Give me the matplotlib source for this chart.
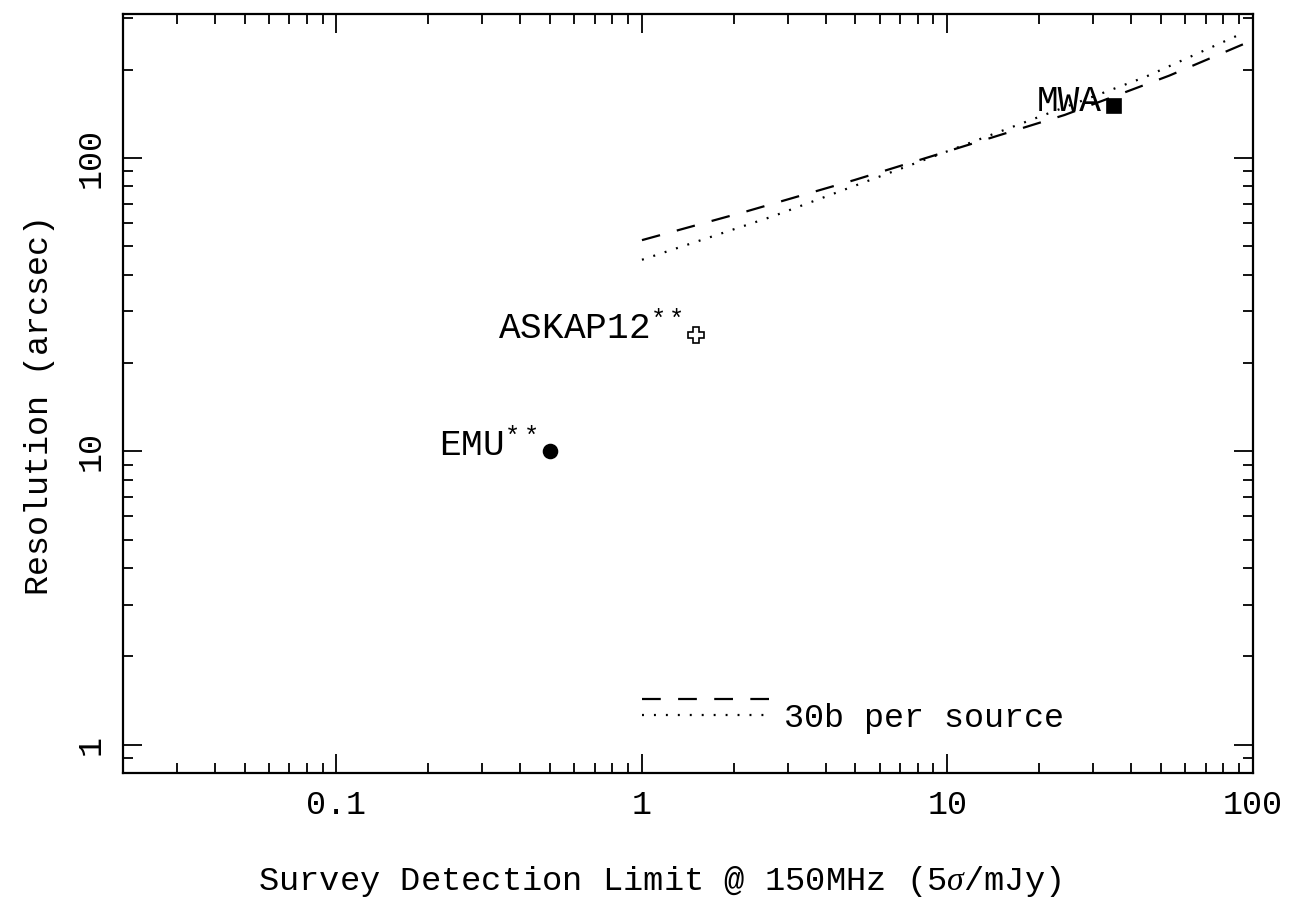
import matplotlib
matplotlib.use('Agg')
import matplotlib.pyplot as plt
import numpy as np

plt.rcParams['font.family'] = ['Liberation Mono', 'DejaVu Sans Mono']
plt.rcParams['mathtext.fontset'] = 'custom'
plt.rcParams['mathtext.rm'] = 'Liberation Mono'
plt.rcParams['mathtext.it'] = 'Liberation Serif:italic'
plt.rcParams['lines.scale_dashes'] = False

# surveys
names = [r'EMU$^{**}$', r'ASKAP12$^{**}$', 'MWA']
flux = [0.5, 1.5, 35.0]
res = [10.0, 25.0, 150.0]
markers = ['o', 'P', 's']
filled = [True, False, True]

# 30b per source curves
dash_x = [1.0, 2.21, 4.95, 9.0, 24.2, 53.2, 94.8]
dash_y = [52.5, 65.9, 84.1, 101.9, 140.3, 191.0, 246.6]
dot_x = [1.0, 2.67, 10.3, 44.3, 93.1]
dot_y = [45.0, 63.2, 106.7, 188.8, 267.3]

fig = plt.figure(figsize=(12.89, 9.02), dpi=100)
ax = fig.add_axes([0.0954, 0.143, 0.8766, 0.8415])
ax.set_xscale('log')
ax.set_yscale('log')
ax.set_xlim(0.02, 100)
ax.set_ylim(0.8, 310)

l1, = ax.plot(dash_x, dash_y, color='black', lw=1.6, dashes=(13.5, 12.5))
l2, = ax.plot(dot_x, dot_y, color='black', lw=1.6, dashes=(1.4, 7.2))

for n, x, y, m, f in zip(names, flux, res, markers, filled):
    ax.plot(x, y, marker=m, ms=10 if m != 'P' else 12, color='black',
            mfc='black' if f else 'white', mec='black', mew=1.2, ls='none')
    ax.annotate(n, (x, y), xytext=(-9, -3), textcoords='offset points',
                ha='right', va='baseline', fontsize=26)

ax.legend([l1, l2], ['', '30b per source'], loc='lower left',
          bbox_to_anchor=(0.433, 0.012), frameon=False, fontsize=24,
          handlelength=3.8, handletextpad=0.45, labelspacing=-0.45)

ax.set_xticks([0.1, 1, 10, 100])
ax.set_xticklabels(['0.1', '1', '10', '100'])
ax.set_yticks([1, 10, 100])
ax.set_yticklabels(['1', '10', '100'])
for lab in ax.get_yticklabels():
    lab.set_rotation(90)
    lab.set_va('center')

ax.tick_params(which='both', direction='in', top=True, right=True,
               labelsize=24, width=1.3)
ax.tick_params(which='major', length=14, pad=12)
ax.tick_params(which='minor', length=7)
for s in ax.spines.values():
    s.set_linewidth(1.6)

ax.set_xlabel(r'Survey Detection Limit @ 150MHz (5$\sigma$/mJy)', fontsize=24.3)
ax.xaxis.set_label_coords(0.475, -0.120)
ax.set_ylabel('Resolution (arcsec)', fontsize=24)
ax.yaxis.set_label_coords(-0.060, 0.485)

fig.savefig('out.png', dpi=100)
